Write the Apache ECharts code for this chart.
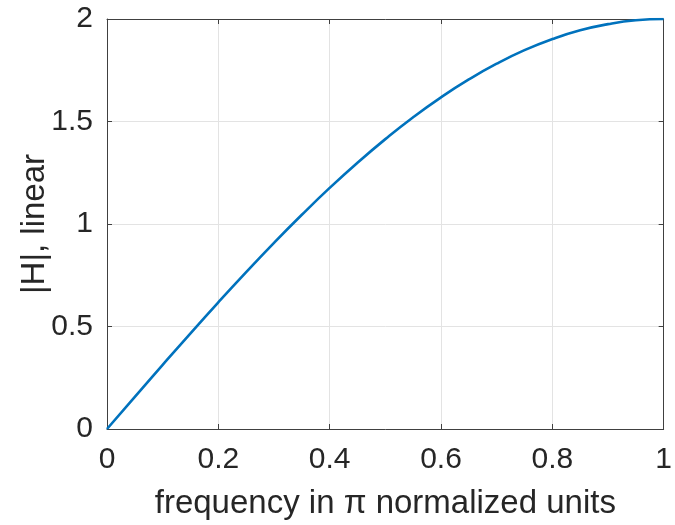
<!DOCTYPE html>
<html>
<head>
<meta charset="utf-8">
<script src="https://cdn.jsdelivr.net/npm/echarts@6/dist/echarts.min.js"></script>
<style>html,body{margin:0;padding:0;background:#fff;}#c{width:675px;height:525px;}</style>
</head>
<body>
<div id="c"></div>
<script>
const freq = [0, 0.05, 0.1, 0.15, 0.2, 0.25, 0.3, 0.35, 0.4, 0.45, 0.5, 0.55, 0.6, 0.65, 0.7, 0.75, 0.8, 0.85, 0.9, 0.95, 1];
const mag = [0, 0.157, 0.313, 0.467, 0.618, 0.765, 0.908, 1.045, 1.176, 1.299, 1.414, 1.521, 1.618, 1.705, 1.782, 1.848, 1.902, 1.945, 1.975, 1.994, 2.0];
const xTicks = [0, 0.2, 0.4, 0.6, 0.8, 1];
const yTicks = [0, 0.5, 1, 1.5, 2];
const xTitle = 'frequency in \u03c0 normalized units';
const yTitle = '|H|, linear';

const FONT = '"Liberation Sans", Arial, Helvetica, sans-serif';
const TXT = '#262626';
const AX = '#404040';
const chart = echarts.init(document.getElementById('c'), null, {renderer: 'canvas'});
const fmt = v => String(Math.round(v * 10) / 10);
const data = freq.map((f, i) => [f, mag[i]]);
const baseX = {
  type: 'value', min: 0, max: 1, interval: 0.2,
  axisLine: {show: true, onZero: false, lineStyle: {color: AX, width: 1}},
  axisTick: {show: true, inside: true, length: 5, lineStyle: {color: AX}},
  splitLine: {show: false}
};
const baseY = {
  type: 'value', min: 0, max: 2, interval: 0.5,
  axisLine: {show: true, onZero: false, lineStyle: {color: AX, width: 1}},
  axisTick: {show: true, inside: true, length: 5, lineStyle: {color: AX}},
  splitLine: {show: false}
};
chart.setOption({
  animation: false,
  backgroundColor: '#fff',
  grid: {left: 107, right: 9, top: 19, bottom: 94, containLabel: false},
  xAxis: [
    Object.assign({}, baseX, {
      position: 'bottom',
      name: xTitle, nameLocation: 'middle', nameGap: 58, nameMoveOverlap: false,
      nameTextStyle: {fontFamily: FONT, fontSize: 33, color: TXT},
      axisLabel: {show: true, margin: 16, fontFamily: FONT, fontSize: 30, color: TXT,
        formatter: v => xTicks.some(t => Math.abs(t - v) < 1e-9) ? fmt(v) : ''},
      splitLine: {show: true, lineStyle: {color: '#e3e3e3', width: 1}}
    }),
    Object.assign({}, baseX, {position: 'top', axisLabel: {show: false}})
  ],
  yAxis: [
    Object.assign({}, baseY, {
      position: 'left',
      name: yTitle, nameLocation: 'middle', nameGap: 56, nameRotate: 90, nameMoveOverlap: false,
      nameTextStyle: {fontFamily: FONT, fontSize: 33, color: TXT},
      axisLabel: {show: true, margin: 14, fontFamily: FONT, fontSize: 30, color: TXT,
        formatter: v => yTicks.some(t => Math.abs(t - v) < 1e-9) ? fmt(v) : ''},
      splitLine: {show: true, lineStyle: {color: '#e3e3e3', width: 1}}
    }),
    Object.assign({}, baseY, {position: 'right', axisLabel: {show: false}})
  ],
  series: [{
    type: 'line', data: data, xAxisIndex: 0, yAxisIndex: 0,
    smooth: true, showSymbol: false, symbol: 'none',
    lineStyle: {color: '#0072BD', width: 2.6}
  }]
});
</script>
</body>
</html>
